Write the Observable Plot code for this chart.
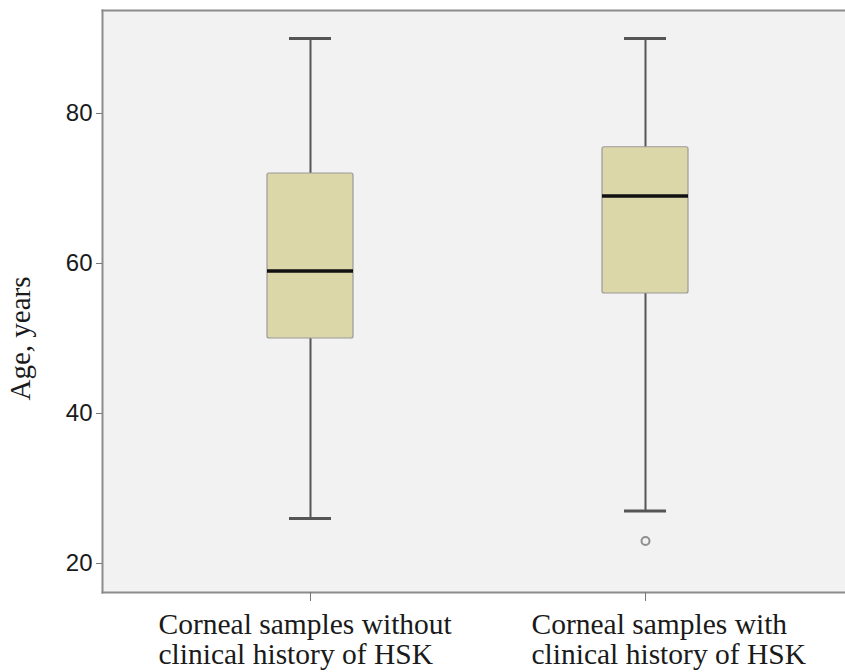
<!DOCTYPE html>
<html>
<head>
<meta charset="utf-8">
<script src="https://cdn.jsdelivr.net/npm/d3@7"></script>
<script src="https://cdn.jsdelivr.net/npm/@observablehq/plot@0.6"></script>
<style>
  html, body { margin: 0; padding: 0; background: #ffffff; }
  #chart svg { display: block; }
</style>
</head>
<body>
<div id="chart"></div>
<script>
// Categories (x axis labels)
const groups = [
  "Corneal samples without\nclinical history of HSK",
  "Corneal samples with\nclinical history of HSK"
];
// Box-plot summary values (Age, years)
const whiskerLow  = [26, 27];
const q1          = [50, 56];
const median      = [59, 69];
const q3          = [72, 75.5];
const whiskerHigh = [90, 90];
// Outliers
const outlierGroup = [groups[1]];
const outlierAge   = [23];
// Y ticks and title
const yTicks = [20, 40, 60, 80];
const yTitle = "Age, years";

const boxes = groups.map((g, i) => ({
  group: g, lo: whiskerLow[i], q1: q1[i], med: median[i], q3: q3[i], hi: whiskerHigh[i]
}));
const outliers = outlierGroup.map((g, i) => ({group: g, age: outlierAge[i]}));

const serif = "'Liberation Serif', 'Times New Roman', serif";
const sans = "'Liberation Sans', Arial, sans-serif";

const xLabelStyle = {
  tickSize: 0, tickPadding: 19, textAnchor: "start",
  fontSize: 29.5, fontFamily: serif, lineHeight: 1.05, color: "#1a1a1a", label: null
};

const chart = Plot.plot({
  width: 845,
  height: 672,
  marginLeft: 102,
  marginTop: 10,
  marginBottom: 80,
  marginRight: 0,
  style: {background: "#ffffff", overflow: "visible"},
  x: {domain: groups, range: [266, 688], paddingInner: 0.744, paddingOuter: 0},
  y: {domain: [16.13, 93.73]},
  marks: [
    Plot.frame({fill: "#f2f2f2"}),
    Plot.frame({anchor: "left", stroke: "#8c8c8c", strokeWidth: 2}),
    Plot.frame({anchor: "top", stroke: "#8c8c8c", strokeWidth: 2}),
    Plot.frame({anchor: "bottom", stroke: "#8c8c8c", strokeWidth: 2}),
    // whiskers
    Plot.ruleX(boxes, {x: "group", y1: "lo", y2: "hi", stroke: "#555555", strokeWidth: 2}),
    Plot.tickY(boxes, {x: "group", y: "hi", stroke: "#555555", strokeWidth: 3, insetLeft: 22, insetRight: 22}),
    Plot.tickY(boxes, {x: "group", y: "lo", stroke: "#555555", strokeWidth: 3, insetLeft: 22, insetRight: 22}),
    // boxes
    Plot.barY(boxes, {x: "group", y1: "q1", y2: "q3", fill: "#dcd7a8", stroke: "#9a9a9a", strokeWidth: 1.2, rx: 2}),
    Plot.tickY(boxes, {x: "group", y: "med", stroke: "#111111", strokeWidth: 3.5}),
    // outliers
    Plot.dot(outliers, {x: "group", y: "age", r: 4, stroke: "#8f8f8f", strokeWidth: 2, fill: "none"}),
    // y axis
    Plot.axisY({
      ticks: yTicks, tickSize: 6, tickPadding: 4, tickFormat: d => d,
      fontSize: 24, fontFamily: sans, color: "#1a1a1a", stroke: "#777777", label: null
    }),
    Plot.text([yTitle], {
      frameAnchor: "left", textAnchor: "middle", rotate: -90, dx: -82, dy: 37,
      fontSize: 29, fontFamily: serif, fill: "#1a1a1a"
    }),
    // x axis ticks
    Plot.axisX({tickSize: 9, stroke: "#777777", tickFormat: () => "", label: null}),
    // x axis labels (left-aligned blocks)
    Plot.axisX([groups[0]], {...xLabelStyle, dx: -152}),
    Plot.axisX([groups[1]], {...xLabelStyle, dx: -114})
  ]
});

document.getElementById("chart").appendChild(chart);
</script>
</body>
</html>
